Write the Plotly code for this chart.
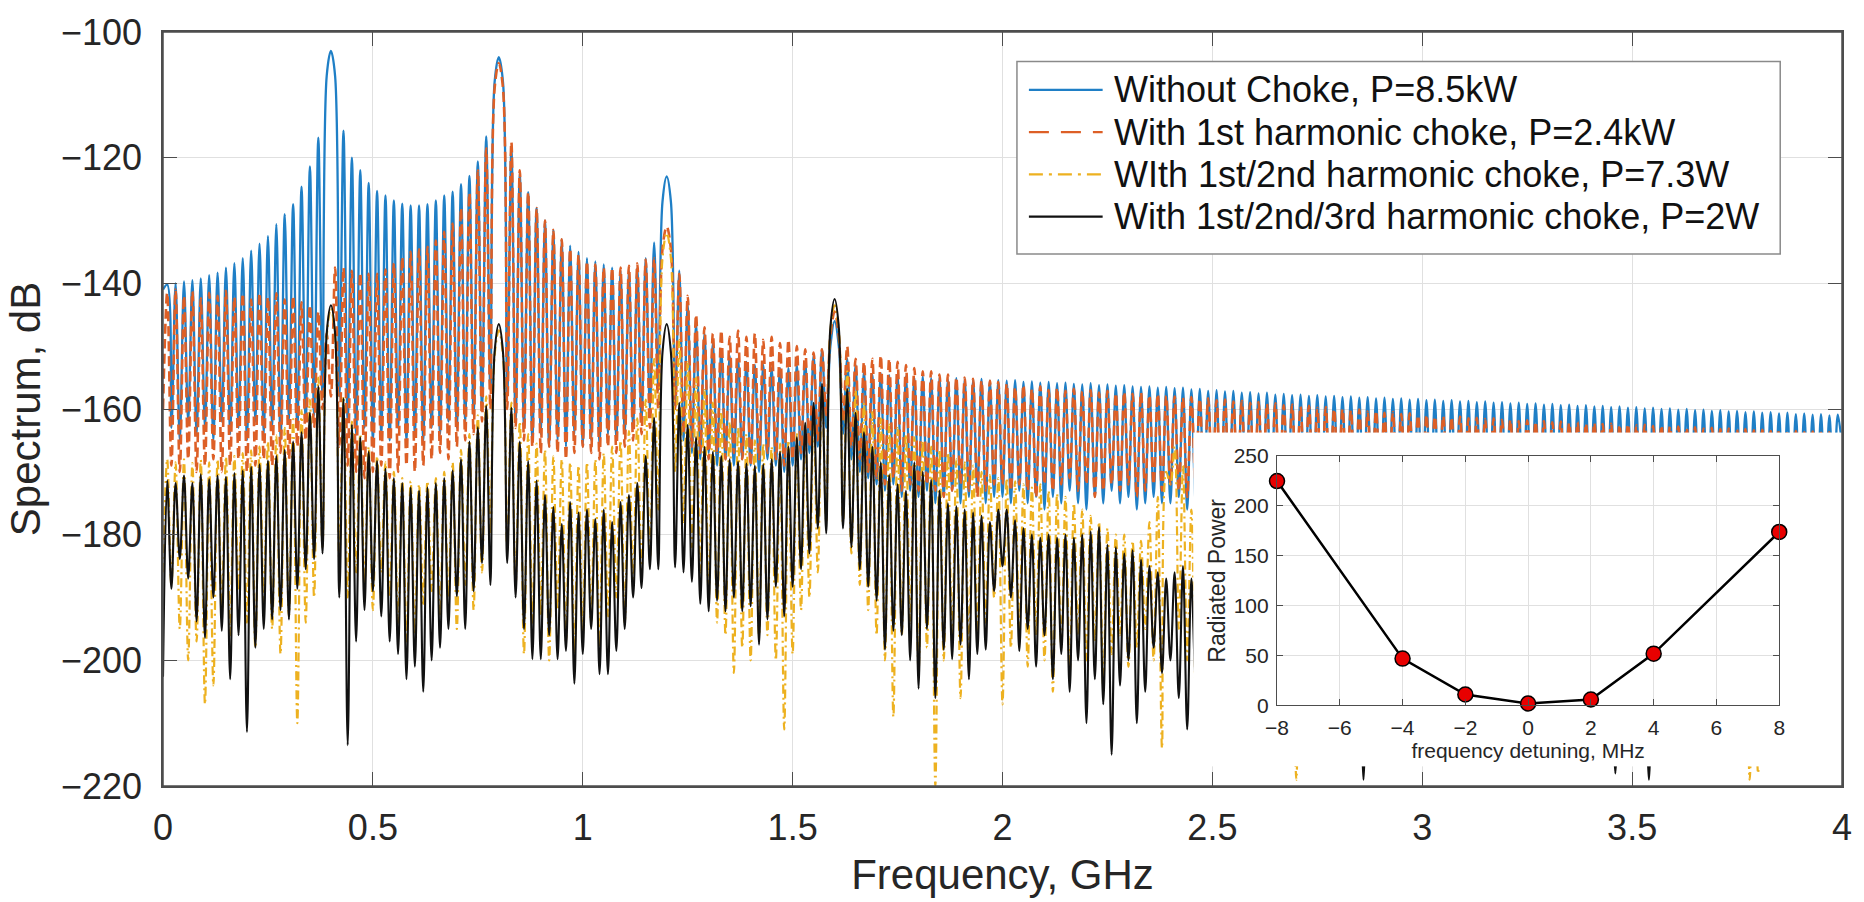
import plotly.graph_objects as go

# ---------------- data: main spectrum (dB), sampled every 0.01 GHz ----------------
# *_EVEN : values at 0.00, 0.02, ..., 4.00 GHz (nulls, harmonic maxima at 0.4 GHz multiples)
# *_ODD  : values at 0.01, 0.03, ..., 3.99 GHz (lobe maxima)
FREQ_STEP_GHZ = 0.01

BLUE_ODD = [
    -140.2, -140.0, -139.7, -139.5, -139.2, -138.7, -138.3, -137.5, -136.8, -136.0, -134.8, -133.7, -132.5, -130.6, -129.0, -127.4, -124.6, -121.4, -116.8, -107.0,
    -107.0, -115.7, -120.0, -122.0, -124.0, -125.3, -126.0, -126.8, -127.3, -127.6, -127.6, -127.4, -126.8, -126.0, -125.4, -124.2, -122.9, -120.6, -116.6, -108.0,
    -108.0, -118.5, -122.5, -125.5, -128.0, -130.0, -131.5, -133.0, -134.0, -135.0, -136.0, -136.5, -137.0, -137.5, -138.0, -138.0, -137.5, -136.0, -133.5, -127.0,
    -127.0, -138.0, -143.3, -146.4, -148.0, -149.5, -150.5, -151.5, -152.0, -152.5, -153.0, -153.0, -153.5, -153.5, -153.5, -153.0, -152.5, -151.5, -150.5, -150.0,
    -150.0, -152.0, -153.0, -154.0, -154.5, -154.3, -154.6, -154.5, -154.8, -155.0, -154.8, -155.1, -155.0, -155.3, -155.1, -155.3, -155.4, -155.2, -155.5, -155.4,
    -155.5, -155.4, -155.7, -155.6, -155.8, -155.7, -155.9, -155.8, -156.0, -156.1, -155.9, -156.2, -156.1, -156.3, -156.2, -156.4, -156.5, -156.4, -156.6, -156.5,
    -156.7, -156.6, -156.9, -156.8, -157.1, -157.0, -157.2, -157.1, -157.4, -157.3, -157.5, -157.4, -157.7, -157.6, -157.8, -157.7, -157.9, -157.8, -158.0, -157.9,
    -158.1, -158.0, -158.2, -158.1, -158.3, -158.2, -158.4, -158.3, -158.5, -158.4, -158.6, -158.5, -158.7, -158.6, -158.8, -158.7, -158.9, -158.8, -159.0, -158.9,
    -159.1, -159.0, -159.2, -159.1, -159.3, -159.2, -159.4, -159.3, -159.5, -159.4, -159.6, -159.5, -159.7, -159.6, -159.8, -159.7, -159.9, -159.8, -160.0, -159.9,
    -160.1, -160.0, -160.2, -160.1, -160.3, -160.2, -160.4, -160.3, -160.5, -160.4, -160.6, -160.5, -160.7, -160.6, -160.8, -160.7, -160.9, -160.8, -161.0, -160.9,
]
BLUE_EVEN = [
    -141, -163, -165, -162, -164, -163, -165, -162, -164, -163, -165, -162, -164, -163, -165, -162, -163, -162, -161, -158,
    -103.0, -158, -162, -164, -163, -165, -164, -165, -163, -165, -164, -165, -163, -164, -162, -163, -162, -161, -160, -157,
    -104.0, -158, -162, -163, -165, -164, -166, -165, -166, -164, -166, -165, -166, -164, -165, -164, -163, -162, -160, -157,
    -123.0, -160, -165, -167, -168, -167, -169, -168, -169, -168, -169, -170, -168, -169, -170, -169, -168, -167, -166, -163,
    -146.0, -164, -168, -170, -171, -172, -173, -172, -174, -173, -174, -173, -175, -174, -173, -175, -174, -173, -175, -174,
    -174, -175, -173, -175, -174, -176, -174, -175, -173, -175, -176, -174, -175, -173, -175, -174, -176, -175, -174, -175,
    -175, -174, -176, -175, -174, -175, -176, -174, -175, -173, -175, -176, -174, -175, -174, -176, -175, -174, -175, -176,
    -174, -175, -176, -174, -175, -176, -175, -174, -176, -175, -174, -175, -176, -175, -174, -175, -176, -174, -175, -176,
    -175, -174, -176, -175, -174, -176, -175, -174, -175, -176, -174, -175, -176, -175, -174, -175, -176, -175, -174, -175,
    -176, -174, -175, -176, -175, -174, -176, -175, -174, -175, -176, -175, -174, -176, -175, -174, -175, -176, -175, -174,
    -166,
]

ORANGE_ODD = [
    -141.5, -141.0, -142.0, -141.3, -142.4, -141.5, -142.0, -141.2, -142.2, -141.6, -142.6, -141.5, -142.2, -141.6, -142.6, -142.0, -143.0, -143.5, -144.5, -148.0,
    -137.5, -137.5, -138.0, -138.3, -138.5, -138.5, -137.8, -136.8, -135.8, -135.0, -134.6, -134.2, -133.2, -131.8, -130.5, -128.0, -125.6, -122.0, -118.5, -109.0,
    -109.0, -117.5, -122.0, -125.5, -128.0, -130.0, -131.5, -133.0, -134.5, -135.5, -136.5, -137.0, -137.5, -137.5, -137.5, -137.2, -136.8, -136.2, -136.0, -134.5,
    -134.5, -138.5, -142.0, -145.0, -147.0, -148.0, -147.5, -148.5, -147.5, -148.5, -148.0, -149.0, -148.5, -149.5, -149.0, -150.0, -150.5, -151.0, -150.5, -148.5,
    -148.5, -150.0, -152.0, -152.5, -152.0, -151.5, -152.0, -152.5, -153.0, -153.5, -154.0, -154.0, -154.5, -154.5, -155.0, -155.0, -155.2, -155.5, -155.5, -155.7,
    -156.0, -156.5, -156.2, -156.8, -156.4, -157.0, -156.6, -157.1, -156.8, -157.2, -157.0, -157.4, -157.1, -157.5, -157.3, -157.6, -157.4, -157.8, -157.6, -157.9,
    -158.0, -158.2, -158.1, -158.4, -158.3, -158.6, -158.5, -158.8, -158.7, -159.0, -158.9, -159.2, -159.1, -159.4, -159.3, -159.6, -159.5, -159.8, -159.7, -160.0,
    -160.0, -160.2, -160.1, -160.4, -160.3, -160.6, -160.5, -160.8, -160.7, -161.0, -160.9, -161.2, -161.1, -161.3, -161.2, -161.5, -161.4, -161.6, -161.5, -161.7,
    -161.7, -161.9, -161.8, -162.0, -161.9, -162.1, -162.0, -162.2, -162.1, -162.3, -162.2, -162.4, -162.3, -162.5, -162.4, -162.6, -162.5, -162.7, -162.6, -162.8,
    -162.8, -163.0, -162.9, -163.1, -163.0, -163.2, -163.1, -163.3, -163.2, -163.4, -163.3, -163.5, -163.4, -163.6, -163.5, -163.7, -163.6, -163.8, -163.7, -163.9,
]
ORANGE_EVEN = [
    -160, -169, -170, -168, -170, -169, -168, -170, -169, -168, -170, -169, -168, -169, -167, -168, -166, -165, -163, -160,
    -158, -166, -169, -170, -171, -170, -169, -171, -170, -169, -170, -169, -168, -167, -168, -166, -165, -164, -162, -160,
    -105.0, -160, -163, -165, -166, -167, -166, -167, -168, -167, -166, -167, -168, -166, -167, -166, -165, -164, -163, -160,
    -131.0, -160, -164, -166, -167, -168, -167, -168, -167, -168, -169, -168, -167, -168, -169, -168, -167, -166, -165, -161,
    -144.5, -162, -166, -168, -170, -171, -172, -171, -173, -172, -173, -172, -173, -174, -173, -172, -173, -174, -173, -172,
    -172, -173, -172, -173, -174, -172, -173, -172, -171, -173, -172, -174, -173, -172, -173, -172, -174, -173, -172, -173,
    -172, -173, -174, -172, -173, -172, -174, -173, -172, -173, -174, -172, -173, -172, -174, -173, -172, -173, -174, -172,
    -173, -172, -174, -173, -172, -173, -174, -172, -173, -172, -174, -173, -172, -173, -174, -172, -173, -172, -174, -173,
    -172, -173, -174, -172, -173, -174, -172, -173, -172, -174, -173, -172, -173, -174, -172, -173, -172, -174, -173, -172,
    -173, -172, -174, -173, -172, -173, -174, -172, -173, -172, -174, -173, -172, -173, -174, -172, -173, -172, -174, -173,
    -166,
]

YELLOW_ODD = [
    -168.0, -168.5, -168.0, -168.6, -168.1, -168.5, -168.0, -167.6, -167.5, -167.0, -166.6, -166.0, -165.2, -164.2, -163.0, -161.6, -160.2, -158.5, -155.0, -148.5,
    -148.5, -158.0, -162.0, -164.0, -166.0, -167.5, -168.5, -170.0, -171.0, -171.5, -172.0, -171.5, -171.0, -170.0, -168.5, -166.5, -164.0, -161.0, -158.0, -151.5,
    -151.5, -159.0, -162.0, -164.0, -165.5, -166.5, -167.5, -168.0, -168.5, -169.0, -168.5, -168.0, -167.0, -166.0, -165.0, -163.5, -161.5, -158.5, -152.0, -136.0,
    -136.0, -149.0, -152.5, -155.0, -157.0, -159.0, -160.5, -162.0, -163.0, -164.0, -165.0, -165.5, -166.0, -165.5, -165.0, -164.0, -162.5, -160.0, -156.5, -147.5,
    -147.5, -154.0, -157.0, -159.0, -160.5, -161.5, -162.5, -163.0, -164.0, -164.5, -165.0, -166.0, -166.5, -167.0, -168.0, -168.5, -169.0, -170.0, -170.5, -171.0,
    -171.0, -171.5, -172.0, -172.5, -172.0, -173.0, -173.5, -174.0, -175.0, -176.0, -177.0, -178.0, -179.0, -180.0, -180.0, -181.0, -181.0, -178.0, -174.0, -170.0,
    -166.0, -169.0, -176.0, -180.0, -182.0, -184.0, -185.0, -186.0, -186.0, -187.0, -187.0, -188.0, -188.0, -189.0, -189.0, -190.0, -190.0, -190.0, -191.0, -191.0,
    -190.0, -191.0, -190.5, -191.5, -191.0, -192.0, -191.0, -192.5, -191.5, -192.0, -191.0, -192.5, -191.5, -192.0, -191.0, -192.5, -191.5, -192.0, -191.0, -192.5,
    -191.5, -192.0, -191.0, -192.5, -191.5, -192.0, -191.0, -192.5, -191.5, -192.0, -191.0, -192.5, -191.5, -192.0, -191.0, -192.5, -191.5, -192.0, -191.0, -192.5,
    -191.5, -192.0, -191.0, -192.5, -191.5, -192.0, -191.0, -192.5, -191.5, -192.0, -191.0, -192.5, -191.5, -192.0, -191.0, -192.5, -191.5, -192.0, -191.0, -192.5,
]
YELLOW_EVEN = [
    -186, -188, -195, -200, -197, -207, -204, -192, -196, -189, -194, -198, -191, -195, -199, -193, -210, -194, -190, -182,
    -144, -184, -190, -186, -188, -192, -186, -190, -194, -197, -196, -191, -189, -193, -190, -195, -188, -192, -186, -180,
    -147.5, -182, -188, -199, -194, -193, -200, -192, -197, -199, -196, -194, -198, -193, -190, -194, -188, -186, -184, -176,
    -132, -170, -178, -182, -186, -190, -194, -196, -202, -198, -200, -196, -196, -200, -211, -199, -192, -190, -186, -178,
    -143.5, -178, -183, -188, -192, -196, -200, -209, -196, -194, -202, -198, -220, -200, -197, -206, -198, -196, -194, -190,
    -207, -198, -195, -201, -196, -200, -205, -198, -202, -196, -200, -197, -204, -199, -196, -201, -198, -195, -200, -214,
    -172, -195, -200, -204, -198, -206, -202, -208, -200, -205, -203, -207, -201, -206, -204, -219, -203, -207, -202, -205,
    -204, -208, -202, -206, -203, -209, -205, -207, -202, -206, -204, -208, -203, -207, -205, -209, -204, -206, -203, -208,
    -205, -207, -203, -208, -204, -206, -202, -209, -205, -207, -203, -206, -204, -208, -205, -207, -203, -206, -204, -208,
    -205, -207, -203, -206, -204, -208, -205, -207, -203, -219, -218, -206, -204, -208, -205, -207, -203, -206, -204, -207,
    -200,
]

BLACK_ODD = [
    -171.4, -171.8, -170.6, -171.8, -170.4, -171.2, -170.6, -170.8, -170.2, -169.8, -169.2, -168.8, -168.2, -167.5, -166.5, -165.2, -163.7, -160.6, -156.4, -148.0,
    -148.0, -158.3, -162.5, -164.5, -166.8, -168.3, -169.5, -171.0, -171.8, -172.5, -173.0, -172.5, -171.8, -171.0, -169.8, -168.0, -165.2, -162.9, -159.5, -151.0,
    -151.0, -159.8, -165.2, -168.3, -171.4, -173.7, -175.6, -178.3, -174.8, -176.5, -176.0, -177.5, -176.0, -178.0, -174.8, -173.7, -171.8, -167.5, -161.4, -151.0,
    -151.0, -159.0, -162.5, -164.5, -166.0, -166.8, -167.5, -168.0, -168.4, -168.7, -169.0, -168.8, -168.0, -166.8, -166.0, -164.5, -162.2, -159.0, -156.0, -147.0,
    -147.0, -156.8, -160.6, -163.7, -166.0, -168.5, -170.5, -172.0, -173.0, -168.5, -170.0, -171.3, -173.0, -175.0, -175.5, -176.0, -176.5, -177.0, -178.0, -176.0,
    -176.0, -177.7, -179.0, -180.0, -180.5, -180.0, -180.5, -180.0, -180.5, -180.0, -179.5, -178.8, -181.6, -182.0, -183.0, -182.5, -184.0, -185.0, -186.0, -187.0,
    -186.0, -185.0, -187.0, -188.0, -187.0, -189.0, -188.0, -190.0, -189.0, -190.0, -189.0, -191.0, -190.0, -191.0, -190.0, -192.0, -191.0, -192.0, -191.0, -192.0,
    -191.0, -192.0, -191.0, -193.0, -192.0, -193.0, -192.0, -193.0, -192.0, -194.0, -193.0, -194.0, -193.0, -194.0, -193.0, -194.0, -193.0, -195.0, -194.0, -195.0,
    -194.0, -195.0, -194.0, -195.0, -194.0, -196.0, -195.0, -196.0, -195.0, -196.0, -195.0, -196.0, -195.0, -197.0, -196.0, -197.0, -196.0, -197.0, -196.0, -197.0,
    -196.0, -197.0, -196.0, -197.0, -196.0, -198.0, -197.0, -198.0, -197.0, -198.0, -197.0, -198.0, -197.0, -198.0, -197.0, -198.0, -197.0, -198.0, -197.0, -198.0,
]
BLACK_EVEN = [
    -202.6, -188.6, -183.9, -187.0, -193.8, -196.4, -190.0, -195.3, -203.0, -196.0, -211.4, -198.0, -195.0, -193.5, -192.0, -193.5, -188.6, -185.5, -183.9, -183.0,
    -143.5, -190.0, -213.5, -197.0, -192.0, -189.0, -193.0, -197.0, -199.0, -203.0, -201.0, -205.0, -200.0, -198.0, -195.0, -189.8, -195.0, -189.0, -184.5, -188.0,
    -146.5, -184.5, -190.0, -195.0, -199.8, -199.8, -196.0, -199.8, -198.5, -203.7, -199.0, -195.0, -202.2, -202.2, -198.5, -195.0, -190.0, -188.5, -185.5, -185.5,
    -146.5, -185.2, -186.0, -187.5, -191.0, -192.2, -190.5, -192.2, -190.0, -192.2, -191.4, -197.5, -193.5, -188.3, -193.0, -188.3, -185.5, -183.0, -179.0, -179.8,
    -142.5, -179.0, -182.0, -185.5, -188.3, -190.5, -198.3, -195.3, -196.0, -200.0, -204.5, -195.0, -206.0, -198.3, -199.8, -197.5, -203.0, -199.0, -198.3, -189.0,
    -185.0, -190.0, -198.5, -195.0, -201.0, -196.0, -203.0, -199.0, -205.0, -200.0, -210.0, -203.0, -207.0, -215.0, -204.0, -200.0, -210.0, -205.0, -198.0, -202.0,
    -200.0, -206.0, -211.0, -203.0, -207.0, -204.0, -209.0, -205.0, -208.0, -204.0, -210.0, -206.0, -208.0, -205.0, -209.0, -207.0, -210.0, -206.0, -208.0, -207.0,
    -206.0, -209.0, -205.0, -219.0, -207.0, -210.0, -206.0, -209.0, -205.0, -208.0, -210.0, -206.0, -209.0, -207.0, -210.0, -205.0, -208.0, -206.0, -209.0, -207.0,
    -208.0, -206.0, -210.0, -205.0, -209.0, -207.0, -208.0, -206.0, -210.0, -205.0, -209.0, -207.0, -208.0, -218.0, -210.0, -206.0, -209.0, -219.0, -208.0, -207.0,
    -206.0, -209.0, -207.0, -210.0, -205.0, -208.0, -206.0, -209.0, -207.0, -210.0, -206.0, -208.0, -205.0, -209.0, -207.0, -210.0, -206.0, -208.0, -207.0, -209.0,
    -205.0,
]

SERIES_NAMES = [
    "Without Choke, P=8.5kW",
    "With 1st harmonic choke, P=2.4kW",
    "WIth 1st/2nd harmonic choke, P=7.3W",
    "With 1st/2nd/3rd harmonic choke, P=2W",
]

# ---------------- data: inset ----------------
DETUNING_MHZ = [-8, -4, -2, 0, 2, 4, 8]
RADIATED_POWER = [225, 47, 11, 2, 6, 52, 174]

X_TICKS = [0, 0.5, 1, 1.5, 2, 2.5, 3, 3.5, 4]
Y_TICKS = [-220, -200, -180, -160, -140, -120, -100]
INSET_X_TICKS = [-8, -6, -4, -2, 0, 2, 4, 6, 8]
INSET_Y_TICKS = [0, 50, 100, 150, 200, 250]

for name, arr, n in [("BLUE_ODD", BLUE_ODD, 200), ("BLUE_EVEN", BLUE_EVEN, 201),
                     ("ORANGE_ODD", ORANGE_ODD, 200), ("ORANGE_EVEN", ORANGE_EVEN, 201),
                     ("YELLOW_ODD", YELLOW_ODD, 200), ("YELLOW_EVEN", YELLOW_EVEN, 201),
                     ("BLACK_ODD", BLACK_ODD, 200), ("BLACK_EVEN", BLACK_EVEN, 201)]:
    assert len(arr) == n, (name, len(arr))


def interleave(even, odd):
    out = []
    for i in range(len(odd)):
        out.append(even[i])
        out.append(odd[i])
    out.append(even[-1])
    return out


FREQ = [round(i * FREQ_STEP_GHZ, 2) for i in range(401)]

# ---------------- layout geometry (pixels) ----------------
W, H = 1864, 902
ML, MR, MT, MB = 163, 16, 20, 114
PW, PH = W - ML - MR, H - MT - MB


def fx(px):
    return (px - ML) / PW


def fy(py):
    return (H - MB - py) / PH


FONT = "Liberation Sans, Arial, Helvetica, sans-serif"
AX_COL = "#4d4d4d"
TXT_COL = "#262626"
GRID_COL = "#e0e0e0"

fig = go.Figure()

styles = [
    dict(color="#1f7fc6", width=2.3, dash="solid"),
    dict(color="#dd5f26", width=2.6, dash="10px,5px"),
    dict(color="#edb120", width=2.2, dash="9px,4px,2px,4px"),
    dict(color="#111111", width=2.1, dash="solid"),
]
legend_dash = ["solid", "20px,12px", "14px,6px,3px,6px", "solid"]
series = [(BLUE_EVEN, BLUE_ODD), (ORANGE_EVEN, ORANGE_ODD),
          (YELLOW_EVEN, YELLOW_ODD), (BLACK_EVEN, BLACK_ODD)]
for (ev, od), nm, st in zip(series, SERIES_NAMES, styles):
    fig.add_trace(go.Scatter(
        x=FREQ, y=interleave(ev, od), mode="lines", name=nm,
        line=dict(color=st["color"], width=st["width"], dash=st["dash"], shape="spline", smoothing=1.0),
        xaxis="x", yaxis="y", hoverinfo="skip", showlegend=False,
    ))

# white backing panel for the inset
fig.add_trace(go.Scatter(x=[], y=[], xaxis="x2", yaxis="y2", showlegend=False, hoverinfo="skip"))

# inset
fig.add_trace(go.Scatter(
    x=DETUNING_MHZ, y=RADIATED_POWER, mode="lines+markers", xaxis="x3", yaxis="y3",
    showlegend=False, cliponaxis=False, hoverinfo="skip",
    line=dict(color="#000000", width=2.5),
    marker=dict(size=15, color="#e80000", line=dict(color="#000000", width=1.5)),
))

# ---------------- legend (drawn as box, sample lines and text) ----------------
LEG_X0, LEG_X1, LEG_Y0, LEG_Y1 = 1020, 1786, 50, 246
LEG_ROWS = [79, 122, 165, 208]
SAMPLE_X0, SAMPLE_X1, TEXT_X = 1032, 1106, 1115

shapes = [
    dict(type="rect", xref="paper", yref="paper", x0=fx(LEG_X0), x1=fx(LEG_X1), y0=fy(LEG_Y1), y1=fy(LEG_Y0),
         line=dict(color="#8a8a8a", width=1.5), fillcolor="white", layer="above"),
]
annotations = []
for nm, st, dsh, ry in zip(SERIES_NAMES, styles, legend_dash, LEG_ROWS):
    shapes.append(dict(type="line", xref="paper", yref="paper", x0=fx(SAMPLE_X0), x1=fx(SAMPLE_X1),
                       y0=fy(ry), y1=fy(ry), line=dict(color=st["color"], width=2.2, dash=dsh), layer="above"))
    annotations.append(dict(text=nm, xref="paper", yref="paper", x=fx(TEXT_X), y=fy(ry),
                            xanchor="left", yanchor="middle", showarrow=False,
                            font=dict(family=FONT, size=36, color="#111111")))

# main plot frame on top
shapes.append(dict(type="rect", xref="paper", yref="paper", x0=0, x1=1, y0=0, y1=1,
                   line=dict(color=AX_COL, width=1.5), fillcolor="rgba(0,0,0,0)", layer="above"))

fig.update_layout(
    width=W, height=H, autosize=False,
    margin=dict(l=ML, r=MR, t=MT, b=MB, pad=0),
    paper_bgcolor="white", plot_bgcolor="white",
    font=dict(family=FONT, color=TXT_COL),
    showlegend=False,
    xaxis=dict(
        domain=[0, 1], range=[0, 4], tickvals=X_TICKS, ticktext=[f"{v:g}" for v in X_TICKS],
        ticks="inside", ticklen=14, tickwidth=1.2, tickcolor=AX_COL,
        showline=True, linecolor=AX_COL, linewidth=1.5, mirror="ticks",
        showgrid=True, gridcolor=GRID_COL, gridwidth=1, zeroline=False,
        tickfont=dict(family=FONT, size=36, color=TXT_COL), ticklabelstandoff=9,
        title=dict(text="Frequency, GHz", font=dict(family=FONT, size=42, color=TXT_COL), standoff=13),
        anchor="y",
    ),
    yaxis=dict(
        domain=[0, 1], range=[-220, -100], tickvals=Y_TICKS,
        ticks="inside", ticklen=14, tickwidth=1.2, tickcolor=AX_COL,
        showline=True, linecolor=AX_COL, linewidth=1.5, mirror="ticks",
        showgrid=True, gridcolor=GRID_COL, gridwidth=1, zeroline=False,
        tickfont=dict(family=FONT, size=36, color=TXT_COL), ticklabelstandoff=12,
        title=dict(text="Spectrum, dB", font=dict(family=FONT, size=42, color=TXT_COL), standoff=7),
        anchor="x",
    ),
    xaxis2=dict(domain=[fx(1197), 1.0], range=[0, 1], visible=False, anchor="y2", fixedrange=True),
    yaxis2=dict(domain=[fy(768), fy(428)], range=[0, 1], visible=False, anchor="x2", fixedrange=True),
    xaxis3=dict(
        domain=[fx(1281), fx(1785)], range=[-8, 8], tickvals=INSET_X_TICKS,
        ticks="inside", ticklen=6, tickcolor=AX_COL, showline=True, linecolor=AX_COL, linewidth=1.2,
        mirror="ticks", showgrid=True, gridcolor=GRID_COL, zeroline=False,
        tickfont=dict(family=FONT, size=21, color=TXT_COL), ticklabelstandoff=3,
        title=dict(text="frequency detuning, MHz", font=dict(family=FONT, size=21, color=TXT_COL), standoff=2),
        anchor="y3",
    ),
    yaxis3=dict(
        domain=[fy(706), fy(452)], range=[0, 250], tickvals=INSET_Y_TICKS,
        ticks="inside", ticklen=6, tickcolor=AX_COL, showline=True, linecolor=AX_COL, linewidth=1.2,
        mirror="ticks", showgrid=True, gridcolor=GRID_COL, zeroline=False,
        tickfont=dict(family=FONT, size=21, color=TXT_COL), ticklabelstandoff=3,
        title=dict(text="Radiated Power", font=dict(family=FONT, size=23, color=TXT_COL), standoff=1),
        anchor="x3",
    ),
    shapes=shapes,
    annotations=annotations,
)

fig.write_html("out.html")
